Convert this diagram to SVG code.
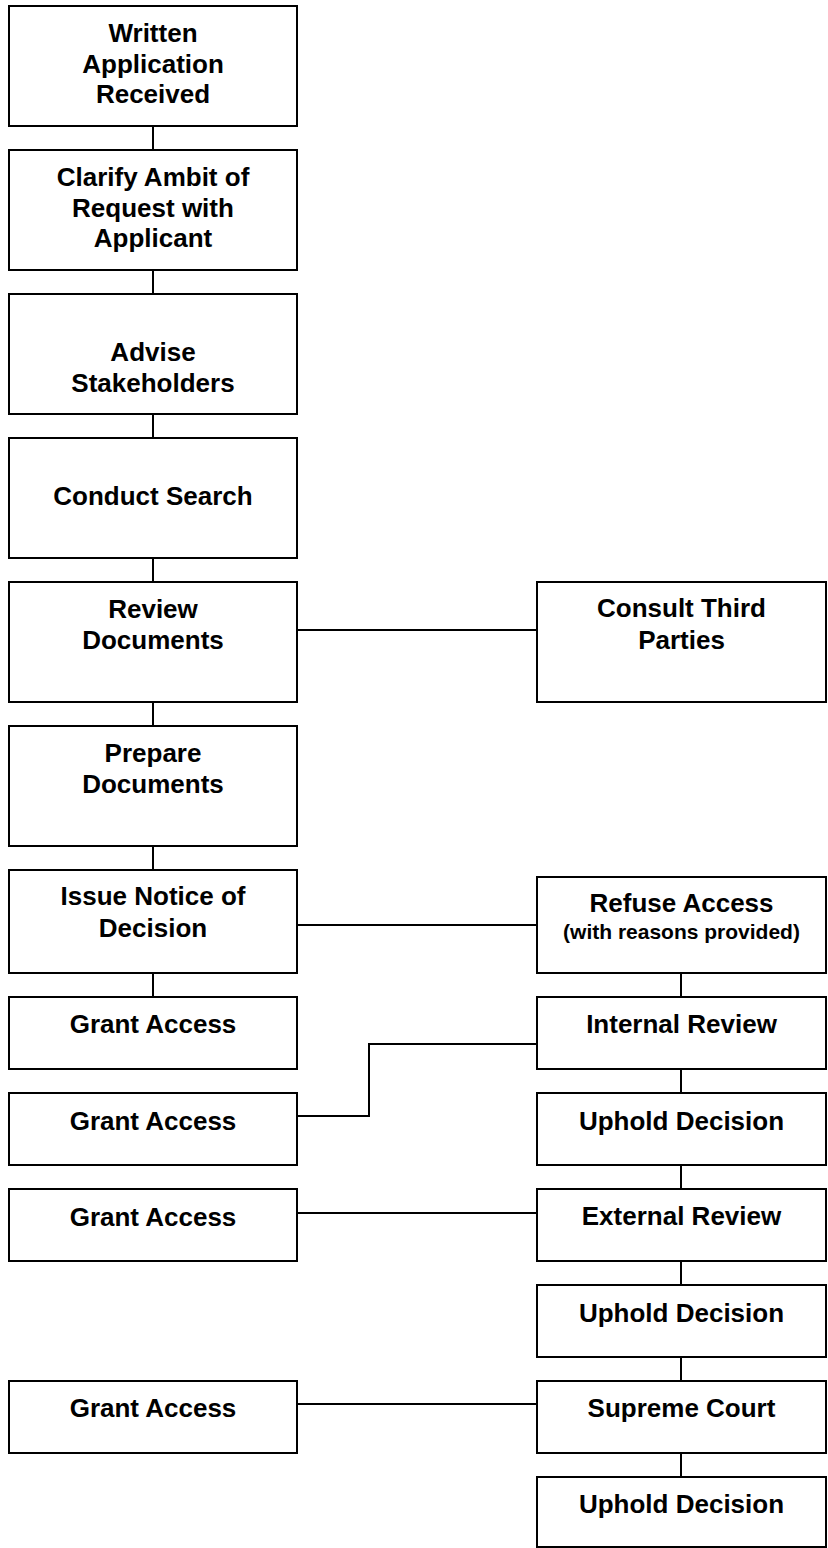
<svg xmlns="http://www.w3.org/2000/svg" width="828" height="1548" viewBox="0 0 828 1548">
<style>
rect{fill:#fff;stroke:#000;stroke-width:2}
text{font-family:"Liberation Sans",Arial,sans-serif;font-weight:bold;font-size:26px;fill:#000;text-anchor:middle}
.s{font-size:21px}
.c{fill:none;stroke:#000;stroke-width:2}
</style>
<rect width="828" height="1548" style="fill:#fff;stroke:none"/>
<g id="connectors">
<path class="c" d="M153 126V150M153 270V294M153 414V438M153 558V582M153 702V726M153 846V870M153 973V997"/>
<path class="c" d="M297 630H537M297 925H537M537 1044H369V1116H297M297 1213H537M297 1404H537"/>
<path class="c" d="M681 973V997M681 1069V1093M681 1165V1189M681 1261V1285M681 1357V1381M681 1453V1477"/>
</g>
<g id="n1"><rect x="9" y="6" width="288" height="120"/><text x="153" y="42">Written</text><text x="153" y="72.5">Application</text><text x="153" y="103">Received</text></g>
<g id="n2"><rect x="9" y="150" width="288" height="120"/><text x="153" y="186">Clarify Ambit of</text><text x="153" y="216.5">Request with</text><text x="153" y="247">Applicant</text></g>
<g id="n3"><rect x="9" y="294" width="288" height="120"/><text x="153" y="361">Advise</text><text x="153" y="392">Stakeholders</text></g>
<g id="n4"><rect x="9" y="438" width="288" height="120"/><text x="153" y="505">Conduct Search</text></g>
<g id="n5"><rect x="9" y="582" width="288" height="120"/><text x="153" y="618">Review</text><text x="153" y="649">Documents</text></g>
<g id="n6"><rect x="9" y="726" width="288" height="120"/><text x="153" y="762">Prepare</text><text x="153" y="793">Documents</text></g>
<g id="n7"><rect x="9" y="870" width="288" height="103"/><text x="153" y="905">Issue Notice of</text><text x="153" y="937">Decision</text></g>
<g id="n8"><rect x="9" y="997" width="288" height="72"/><text x="153" y="1033">Grant Access</text></g>
<g id="n9"><rect x="9" y="1093" width="288" height="72"/><text x="153" y="1130">Grant Access</text></g>
<g id="n10"><rect x="9" y="1189" width="288" height="72"/><text x="153" y="1226">Grant Access</text></g>
<g id="n11"><rect x="9" y="1381" width="288" height="72"/><text x="153" y="1417">Grant Access</text></g>
<g id="r1"><rect x="537" y="582" width="289" height="120"/><text x="681.5" y="617">Consult Third</text><text x="681.5" y="649">Parties</text></g>
<g id="r2"><rect x="537" y="877" width="289" height="96"/><text x="681.5" y="912">Refuse Access</text><text class="s" x="681.5" y="939">(with reasons provided)</text></g>
<g id="r3"><rect x="537" y="997" width="289" height="72"/><text x="681.5" y="1033">Internal Review</text></g>
<g id="r4"><rect x="537" y="1093" width="289" height="72"/><text x="681.5" y="1130">Uphold Decision</text></g>
<g id="r5"><rect x="537" y="1189" width="289" height="72"/><text x="681.5" y="1225">External Review</text></g>
<g id="r6"><rect x="537" y="1285" width="289" height="72"/><text x="681.5" y="1322">Uphold Decision</text></g>
<g id="r7"><rect x="537" y="1381" width="289" height="72"/><text x="681.5" y="1417">Supreme Court</text></g>
<g id="r8"><rect x="537" y="1477" width="289" height="70"/><text x="681.5" y="1513">Uphold Decision</text></g>
</svg>
